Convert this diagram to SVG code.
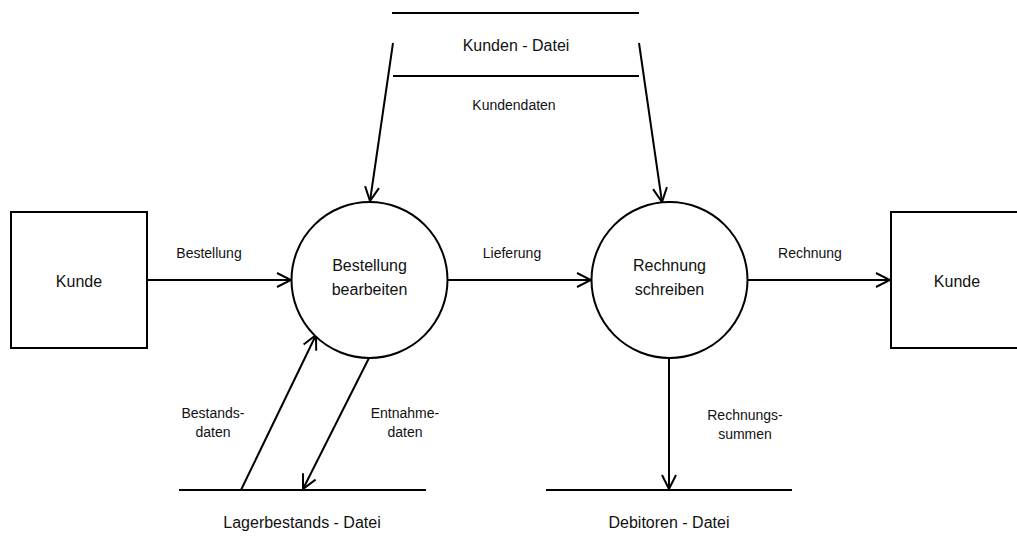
<svg xmlns="http://www.w3.org/2000/svg" width="1017" height="549" viewBox="0 0 1017 549">
<style>
.s{fill:none;stroke:#000;stroke-width:2}
.n{fill:#fff;stroke:#000;stroke-width:2}
.t{font-family:"Liberation Sans",Arial,sans-serif;font-size:16px;fill:#111;text-anchor:middle}
.l{font-family:"Liberation Sans",Arial,sans-serif;font-size:14px;fill:#111;text-anchor:middle}
</style>
<defs>
<marker id="a" markerUnits="userSpaceOnUse" viewBox="0 0 16 16" refX="15" refY="8" markerWidth="16" markerHeight="16" orient="auto">
<path d="M1,1 L15,8 L1,15" fill="none" stroke="#000" stroke-width="2"/>
</marker>
</defs>
<rect width="1017" height="549" fill="#fff"/>
<g id="connectors">
<line class="s" x1="147" y1="280" x2="291" y2="280" marker-end="url(#a)"/>
<line class="s" x1="447" y1="280" x2="591" y2="280" marker-end="url(#a)"/>
<line class="s" x1="747" y1="280" x2="890" y2="280" marker-end="url(#a)"/>
<line class="s" x1="393" y1="43" x2="370" y2="201" marker-end="url(#a)"/>
<line class="s" x1="639" y1="43" x2="662" y2="202" marker-end="url(#a)"/>
<line class="s" x1="241" y1="490" x2="316" y2="335" marker-end="url(#a)"/>
<line class="s" x1="369" y1="358" x2="303" y2="489" marker-end="url(#a)"/>
<line class="s" x1="669" y1="358" x2="669" y2="489" marker-end="url(#a)"/>
<text class="l" x="209" y="258">Bestellung</text>
<text class="l" x="512" y="258">Lieferung</text>
<text class="l" x="810" y="258">Rechnung</text>
<text class="l" x="514" y="110">Kundendaten</text>
<text class="l" x="213" y="418">Bestands-</text>
<text class="l" x="213" y="437">daten</text>
<text class="l" x="405" y="418">Entnahme-</text>
<text class="l" x="405" y="437">daten</text>
<text class="l" x="745" y="420">Rechnungs-</text>
<text class="l" x="745" y="439">summen</text>
</g>
<g id="kunde1">
<rect class="n" x="11" y="212" width="136" height="136"/>
<text class="t" x="79" y="287">Kunde</text>
</g>
<g id="kunde2">
<rect class="n" x="891" y="212" width="136" height="136"/>
<text class="t" x="957" y="287">Kunde</text>
</g>
<g id="bestellung">
<circle class="n" cx="369.5" cy="280" r="78"/>
<text class="t" x="369.5" y="271">Bestellung</text>
<text class="t" x="369.5" y="295">bearbeiten</text>
</g>
<g id="rechnung">
<circle class="n" cx="669.5" cy="280" r="78"/>
<text class="t" x="669.5" y="271">Rechnung</text>
<text class="t" x="669.5" y="295">schreiben</text>
</g>
<g id="kundendatei">
<line class="s" x1="392" y1="13" x2="639" y2="13"/>
<line class="s" x1="393" y1="76" x2="639" y2="76"/>
<text class="t" x="516" y="51">Kunden - Datei</text>
</g>
<g id="lagerdatei">
<line class="s" x1="179" y1="490" x2="426" y2="490"/>
<text class="t" x="302" y="528">Lagerbestands - Datei</text>
</g>
<g id="debitorendatei">
<line class="s" x1="546" y1="490" x2="792" y2="490"/>
<text class="t" x="669" y="528">Debitoren - Datei</text>
</g>
</svg>
